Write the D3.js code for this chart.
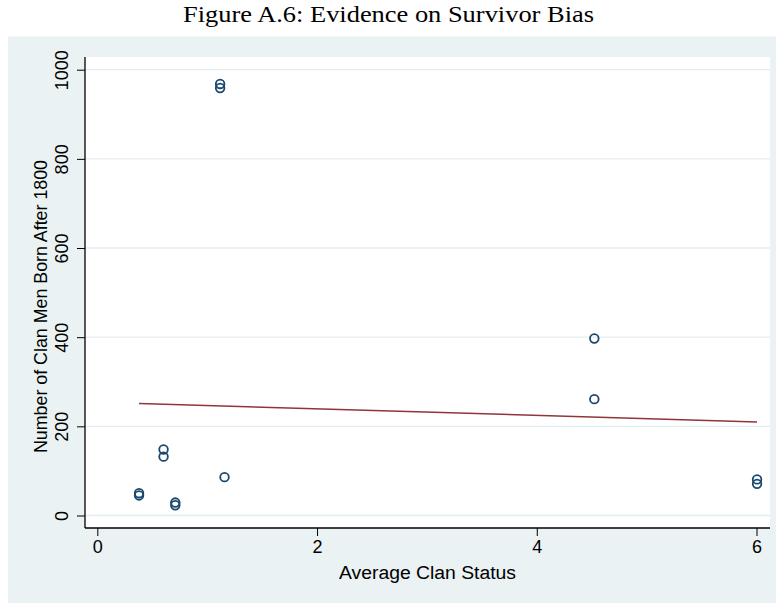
<!DOCTYPE html>
<html>
<head>
<meta charset="utf-8">
<script src="https://cdn.jsdelivr.net/npm/d3@7"></script>
<style>
  body { margin: 0; background: #ffffff; }
  svg { display: block; }
</style>
</head>
<body>
<svg id="chart" width="777" height="603"></svg>
<script>
// Average clan status (x) and number of clan men born after 1800 (y)
const clanStatus = [1.118, 1.118, 0.38, 0.38, 0.603, 0.603, 0.71, 0.71, 1.158, 4.524, 4.524, 6.005, 6.005];
const clanMen    = [968,   959,   50,   45,   148,   132,   29,   23,   86,    397,   261,   81,    71];

// Fitted linear trend (end points over the range of x)
const fitX = [0.38, 6.005];
const fitY = [251, 210];

const xTicks = [0, 2, 4, 6];
const yTicks = [0, 200, 400, 600, 800, 1000];

const titleText = "Figure A.6: Evidence on Survivor Bias";
const xTitle = "Average Clan Status";
const yTitle = "Number of Clan Men Born After 1800";

const sans = "'Liberation Sans', Arial, Helvetica, sans-serif";
const svg = d3.select("#chart");

// Outer graph region
svg.append("rect")
  .attr("x", 8).attr("y", 36.5)
  .attr("width", 768).attr("height", 567)
  .attr("fill", "#eaf2f3");

// Plot region
const plot = { left: 85, right: 770, top: 57, bottom: 528 };
svg.append("rect")
  .attr("x", plot.left).attr("y", plot.top)
  .attr("width", plot.right - plot.left).attr("height", plot.bottom - plot.top)
  .attr("fill", "#ffffff");

const x = d3.scaleLinear().domain([0, 6]).range([97.3, 756.5]);
const y = d3.scaleLinear().domain([0, 1000]).range([515.5, 69.7]);

// Horizontal grid lines
svg.append("g")
  .selectAll("line")
  .data(yTicks)
  .join("line")
  .attr("x1", plot.left + 1).attr("x2", plot.right)
  .attr("y1", d => y(d)).attr("y2", d => y(d))
  .attr("stroke", "#e4edf0")
  .attr("stroke-width", 1.3);

// Y axis
const yAxis = svg.append("g")
  .attr("transform", `translate(${plot.left},0)`)
  .call(d3.axisLeft(y).tickValues(yTicks).tickSize(8).tickPadding(0).tickFormat(d3.format("d")));
yAxis.select(".domain").remove();
yAxis.selectAll(".tick line").attr("stroke", "#000").attr("stroke-width", 1);
yAxis.selectAll(".tick text")
  .attr("x", 0).attr("dy", null)
  .attr("transform", "translate(-22,0) rotate(-90)")
  .attr("text-anchor", "middle")
  .attr("dominant-baseline", "middle")
  .attr("font-family", sans)
  .attr("font-size", 18)
  .attr("fill", "#000");
svg.append("line")
  .attr("x1", plot.left).attr("x2", plot.left)
  .attr("y1", plot.top).attr("y2", plot.bottom)
  .attr("stroke", "#000").attr("stroke-width", 1.3);

// X axis
const xAxis = svg.append("g")
  .attr("transform", `translate(0,${plot.bottom})`)
  .call(d3.axisBottom(x).tickValues(xTicks).tickSize(8).tickPadding(4).tickFormat(d3.format("d")));
xAxis.select(".domain").remove();
xAxis.selectAll(".tick line").attr("stroke", "#000").attr("stroke-width", 1);
xAxis.selectAll(".tick text")
  .attr("font-family", sans)
  .attr("font-size", 18)
  .attr("fill", "#000");
svg.append("line")
  .attr("x1", plot.left).attr("x2", plot.right)
  .attr("y1", plot.bottom).attr("y2", plot.bottom)
  .attr("stroke", "#000").attr("stroke-width", 1.3);

// Axis titles
svg.append("text")
  .attr("x", 427.5).attr("y", 579)
  .attr("text-anchor", "middle")
  .attr("font-family", sans)
  .attr("font-size", 18)
  .attr("textLength", 177)
  .attr("lengthAdjust", "spacingAndGlyphs")
  .text(xTitle);

svg.append("text")
  .attr("transform", "translate(47,306.5) rotate(-90)")
  .attr("text-anchor", "middle")
  .attr("font-family", sans)
  .attr("font-size", 18)
  .attr("textLength", 293)
  .attr("lengthAdjust", "spacingAndGlyphs")
  .text(yTitle);

// Fitted line
svg.append("path")
  .datum(fitX.map((d, i) => [d, fitY[i]]))
  .attr("d", d3.line().x(d => x(d[0])).y(d => y(d[1])))
  .attr("fill", "none")
  .attr("stroke", "#90353b")
  .attr("stroke-width", 1.5);

// Scatter points
svg.append("g")
  .selectAll("circle")
  .data(clanStatus.map((d, i) => [d, clanMen[i]]))
  .join("circle")
  .attr("cx", d => x(d[0]))
  .attr("cy", d => y(d[1]))
  .attr("r", 4.3)
  .attr("fill", "none")
  .attr("stroke", "#1a476f")
  .attr("stroke-width", 1.8);

// Title
svg.append("text")
  .attr("x", 388.5).attr("y", 22)
  .attr("text-anchor", "middle")
  .attr("font-family", "'Liberation Serif', 'Times New Roman', serif")
  .attr("font-size", 24)
  .attr("textLength", 411)
  .attr("lengthAdjust", "spacingAndGlyphs")
  .attr("fill", "#000")
  .text(titleText);
</script>
</body>
</html>
